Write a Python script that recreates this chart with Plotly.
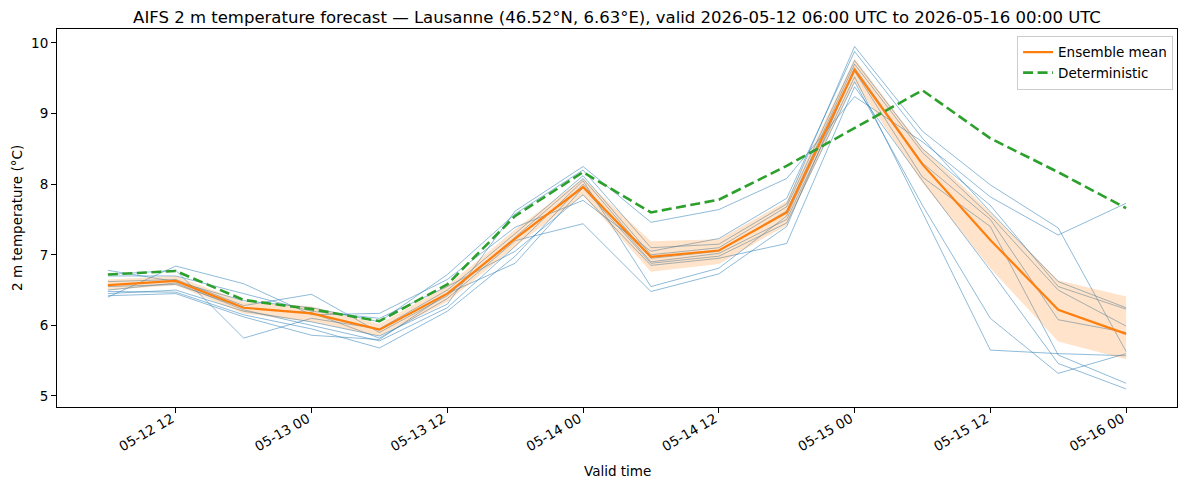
import plotly.graph_objects as go

# ---- data ----
times = [
    "2026-05-12 06:00", "2026-05-12 12:00", "2026-05-12 18:00",
    "2026-05-13 00:00", "2026-05-13 06:00", "2026-05-13 12:00", "2026-05-13 18:00",
    "2026-05-14 00:00", "2026-05-14 06:00", "2026-05-14 12:00", "2026-05-14 18:00",
    "2026-05-15 00:00", "2026-05-15 06:00", "2026-05-15 12:00", "2026-05-15 18:00",
    "2026-05-16 00:00",
]

member_00 = [6.45, 6.50, 6.20, 6.05, 5.85, 6.30, 7.62, 8.25, 7.46, 7.64, 8.08, 9.24, 8.60, 7.82, 7.28, 7.73]
member_01 = [6.78, 6.62, 6.35, 6.25, 6.05, 6.72, 7.58, 8.20, 7.10, 7.15, 7.72, 9.95, 8.75, 7.99, 7.38, 5.63]
member_02 = [6.40, 6.84, 6.59, 6.15, 6.17, 6.65, 7.39, 7.77, 7.05, 7.23, 7.80, 9.88, 8.65, 7.61, 6.62, 6.25]
member_03 = [6.72, 6.78, 5.82, 6.10, 5.95, 6.50, 7.30, 8.12, 7.00, 7.10, 7.68, 9.75, 8.50, 7.70, 6.55, 6.23]
member_04 = [6.62, 6.65, 6.28, 6.44, 5.90, 6.42, 7.25, 8.08, 6.95, 7.05, 7.62, 9.70, 8.45, 7.55, 6.50, 5.99]
member_05 = [6.55, 6.58, 6.25, 6.18, 5.82, 6.38, 7.20, 7.44, 6.48, 6.73, 7.40, 9.65, 8.30, 7.50, 6.08, 5.90]
member_06 = [6.50, 6.60, 6.22, 6.00, 5.78, 6.25, 7.12, 8.05, 6.55, 6.81, 7.55, 9.60, 8.10, 7.40, 5.58, 5.18]
member_07 = [6.48, 6.47, 6.15, 5.95, 5.68, 6.20, 6.98, 8.00, 6.90, 7.02, 7.50, 9.52, 7.60, 5.65, 5.60, 5.57]
member_08 = [6.42, 6.45, 6.12, 5.86, 5.80, 6.45, 6.88, 7.95, 6.88, 6.98, 7.45, 9.45, 7.70, 6.10, 5.32, 5.60]
member_09 = [6.70, 6.70, 6.45, 6.20, 6.10, 6.55, 7.05, 7.85, 6.85, 6.95, 7.16, 9.38, 8.05, 6.78, 5.46, 5.10]
members = [member_00, member_01, member_02, member_03, member_04,
           member_05, member_06, member_07, member_08, member_09]

ens_mean = [6.57, 6.63, 6.25, 6.17, 5.94, 6.45, 7.23, 7.96, 6.97, 7.06, 7.60, 9.62, 8.28, 7.21, 6.22, 5.88]
band_low = [6.50, 6.57, 6.17, 6.05, 5.85, 6.33, 7.12, 7.84, 6.76, 6.87, 7.42, 9.45, 8.02, 6.81, 5.77, 5.52]
band_high = [6.65, 6.70, 6.33, 6.27, 6.02, 6.56, 7.36, 8.08, 7.19, 7.22, 7.76, 9.78, 8.52, 7.60, 6.64, 6.41]
deterministic = [6.72, 6.77, 6.36, 6.23, 6.06, 6.58, 7.55, 8.17, 7.60, 7.78, 8.26, 8.80, 9.33, 8.65, 8.17, 7.66]

tick_vals = ["2026-05-12 12:00", "2026-05-13 00:00", "2026-05-13 12:00", "2026-05-14 00:00",
             "2026-05-14 12:00", "2026-05-15 00:00", "2026-05-15 12:00", "2026-05-16 00:00"]
tick_text = ["05-12 12", "05-13 00", "05-13 12", "05-14 00",
             "05-14 12", "05-15 00", "05-15 12", "05-16 00"]
y_ticks = [5, 6, 7, 8, 9, 10]

title = ("AIFS 2 m temperature forecast — Lausanne (46.52°N, 6.63°E), "
         "valid 2026-05-12 06:00 UTC to 2026-05-16 00:00 UTC")

# ---- figure ----
FONT = "DejaVu Sans"
fig = go.Figure()

for m in members:
    fig.add_trace(go.Scatter(
        x=times, y=m, mode="lines",
        line=dict(color="rgba(31,119,180,0.5)", width=1),
        showlegend=False, hoverinfo="skip"))

fig.add_trace(go.Scatter(
    x=times, y=band_high, mode="lines", line=dict(width=0, color="rgba(0,0,0,0)"),
    showlegend=False, hoverinfo="skip"))
fig.add_trace(go.Scatter(
    x=times, y=band_low, mode="lines", line=dict(width=0, color="rgba(0,0,0,0)"),
    fill="tonexty", fillcolor="rgba(255,127,14,0.22)",
    showlegend=False, hoverinfo="skip"))

fig.add_trace(go.Scatter(
    x=times, y=ens_mean, mode="lines", name="Ensemble mean",
    line=dict(color="#ff7f0e", width=2.2)))
fig.add_trace(go.Scatter(
    x=times, y=deterministic, mode="lines", name="Deterministic",
    line=dict(color="#2ca02c", width=2.6, dash="10px,4.5px")))

axis_common = dict(
    showline=True, linecolor="black", linewidth=1, mirror=True,
    ticks="outside", ticklen=5, tickwidth=1, tickcolor="black",
    showgrid=False, zeroline=False,
    tickfont=dict(family=FONT, size=13.5, color="black"),
)

fig.update_xaxes(
    type="date",
    range=["2026-05-12 01:30", "2026-05-16 04:30"],
    tickmode="array", tickvals=tick_vals, ticktext=tick_text,
    tickangle=-30, ticklabelstandoff=-7, ticklabelshift=-4,
    **axis_common)
fig.update_yaxes(
    range=[4.844, 10.198],
    tickmode="array", tickvals=y_ticks, ticktext=[str(v) for v in y_ticks],
    **axis_common)

fig.update_layout(
    width=1190, height=489,
    margin=dict(l=57, r=13, t=29, b=82),
    paper_bgcolor="white", plot_bgcolor="white",
    font=dict(family=FONT, color="black"),
    title=dict(text=title, x=0.5, xref="paper", y=1 - 17 / 489, yref="container",
               xanchor="center", yanchor="middle",
               font=dict(family=FONT, size=16.5, color="black")),
    legend=dict(x=0.9965, y=0.982, xanchor="right", yanchor="top",
                traceorder="normal",
                bgcolor="rgba(255,255,255,0.8)", bordercolor="#cccccc", borderwidth=1,
                font=dict(family=FONT, size=13.5, color="black"),
                tracegroupgap=0, itemwidth=30),
    showlegend=True,
)
# axis titles as annotations placed in pixel terms
fig.add_annotation(text="Valid time", xref="paper", yref="paper",
                   x=0.5, y=-(471 - 407) / (407 - 29), yanchor="middle",
                   showarrow=False, font=dict(family=FONT, size=13.5, color="black"))
fig.add_annotation(text="2 m temperature (°C)", xref="paper", yref="paper",
                   x=-(57 - 17) / (1177 - 57), xanchor="center", y=0.5, yanchor="middle",
                   textangle=-90, showarrow=False,
                   font=dict(family=FONT, size=13.5, color="black"))

fig.write_html("out.html")
